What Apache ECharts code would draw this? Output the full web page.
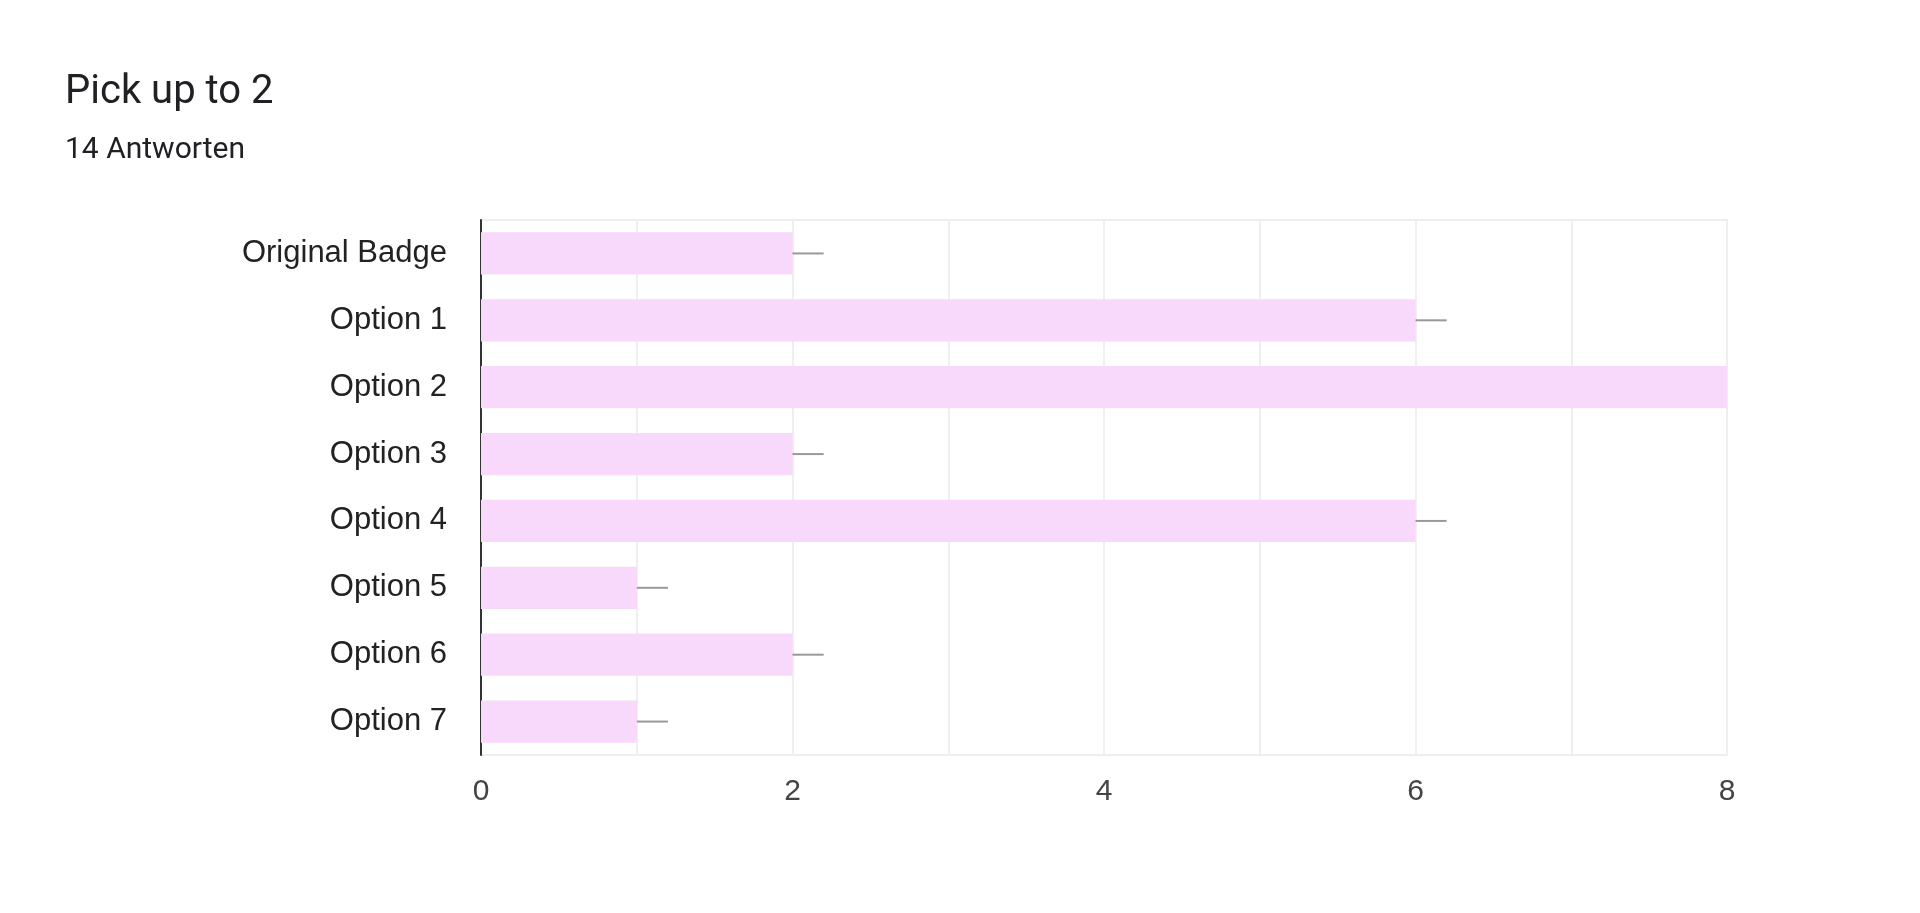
<!DOCTYPE html>
<html><head><meta charset="utf-8">
<script src="https://cdn.jsdelivr.net/npm/echarts@6/dist/echarts.min.js"></script>
<style>html,body{margin:0;padding:0;background:#fff}#c{width:1920px;height:913px}</style>
</head><body><div id="c"></div>
<script>
const categories = ['Original Badge','Option 1','Option 2','Option 3','Option 4','Option 5','Option 6','Option 7'];
const values = [2,6,8,2,6,1,2,1];
const errorLen = 0.2;
const xTicks = [0,2,4,6,8];

const chart = echarts.init(document.getElementById('c'));
chart.setOption({
  animation:false,
  title:{text:'Pick up to 2',subtext:'14 Antworten',left:60,top:68,
    textStyle:{fontFamily:'Roboto',fontSize:40,fontWeight:'normal',color:'#202124'},
    subtextStyle:{fontFamily:'Roboto',fontSize:30,color:'#202124'},itemGap:22},
  grid:{left:481,right:193,top:220,bottom:158,show:true,borderColor:'#eeeeee',borderWidth:2},
  xAxis:{type:'value',min:0,max:8,interval:1,
    axisLabel:{fontFamily:'Arial',fontSize:30,color:'#444',margin:22,
      formatter:v=>xTicks.includes(v)?String(v):''},
    axisLine:{show:false},axisTick:{show:false},
    splitLine:{lineStyle:{color:'#efefef',width:2}}},
  yAxis:{type:'category',data:categories,inverse:true,
    axisLabel:{fontFamily:'Arial',fontSize:31,color:'#222',margin:34},
    axisLine:{lineStyle:{color:'#333',width:2}},axisTick:{show:false}},
  series:[
    {type:'bar',data:values,barWidth:'63%',itemStyle:{color:'#f8d9fc'}},
    {type:'custom',data:values.map((v,i)=>[v,i]),z:5,
     renderItem:(params,api)=>{
       const i=api.value(1), v=api.value(0);
       const a=api.coord([v,i]), b=api.coord([Math.min(v+errorLen,8),i]);
       return {type:'line',shape:{x1:a[0],y1:a[1],x2:b[0],y2:b[1]},
         style:{stroke:'#999',lineWidth:2}};
     }}
  ]
});
</script></body></html>
